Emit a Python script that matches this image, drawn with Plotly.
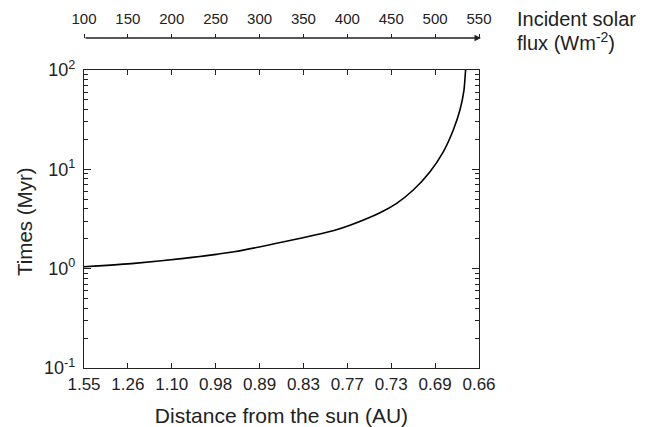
import plotly.graph_objects as go

# Data
flux = [100, 157, 213.9, 270.9, 327.8, 384.8, 403.8, 437.2, 456.2, 475.1, 494.2, 509.3, 520.7, 528.3, 532.9, 534.7]
times = [1.045, 1.131, 1.270, 1.480, 1.866, 2.427, 2.754, 3.656, 4.546, 6.19, 9.46, 15.0, 24.9, 39.5, 62.8, 100]

flux_ticks = [100, 150, 200, 250, 300, 350, 400, 450, 500, 550]
distance_labels = ["1.55", "1.26", "1.10", "0.98", "0.89", "0.83", "0.77", "0.73", "0.69", "0.66"]
y_ticks = [0.1, 1, 10, 100]
y_labels = ["10<sup>-1</sup>", "10<sup>0</sup>", "10<sup>1</sup>", "10<sup>2</sup>"]
y_minor = [m * 10 ** e for e in (-1, 0, 1) for m in range(2, 10)]

FONT = "Liberation Sans, Arial, Helvetica, sans-serif"
INK = "#222"

# figure-pixel layout (page is offset by the 8px body margin)
L, R, T, B = 76, 471, 62, 360
TOPM = 20
plot_h = B - TOPM
W = R - L
ydom_top = (B - T) / plot_h
arrow_y = (B - 30) / plot_h

fig = go.Figure()
fig.add_trace(go.Scatter(x=flux, y=times, mode="lines",
                         line=dict(color="black", width=1.6, shape="spline", smoothing=0.5),
                         showlegend=False, hoverinfo="skip"))
# invisible trace to activate top axis
fig.add_trace(go.Scatter(x=[100, 550], y=[1, 1], xaxis="x2", mode="lines",
                         line=dict(width=0), showlegend=False, hoverinfo="skip"))

fig.update_layout(
    width=647, height=427,
    margin=dict(l=L, r=647 - R, t=TOPM, b=427 - B),
    paper_bgcolor="white", plot_bgcolor="white",
    font=dict(family=FONT, size=15, color=INK),
    xaxis=dict(range=[100, 550], tickvals=flux_ticks, ticktext=distance_labels,
               ticks="inside", ticklen=5, tickcolor=INK, showline=True,
               linecolor=INK, linewidth=1.2, mirror="ticks", showgrid=False,
               zeroline=False, anchor="y", automargin=False,
               title=dict(text="Distance from the sun (AU)", font=dict(size=21), standoff=15),
               tickfont=dict(size=17)),
    xaxis2=dict(range=[100, 550], tickvals=flux_ticks, ticktext=[str(v) for v in flux_ticks],
                overlaying="x", side="top", anchor="free", position=arrow_y,
                ticks="outside", ticklen=4, tickcolor=INK, showline=False,
                showgrid=False, zeroline=False, automargin=False,
                ticklabelstandoff=4, tickfont=dict(size=15)),
    yaxis=dict(type="log", range=[-1, 2], domain=[0, ydom_top], tickvals=y_ticks,
               ticktext=y_labels, ticks="inside", ticklen=7, tickcolor=INK,
               showline=True, linecolor=INK, linewidth=1.2, mirror="ticks",
               showgrid=False, zeroline=False, automargin=False, tickfont=dict(size=18),
               ticklabelstandoff=4,
               minor=dict(ticks="inside", ticklen=4, tickcolor=INK, tickvals=y_minor, showgrid=False)),
)

# y-axis title
fig.add_annotation(x=(16 - L) / W, y=(B - 214) / plot_h, xref="paper", yref="paper",
                   text="Times (Myr)", textangle=-90, showarrow=False,
                   xanchor="center", yanchor="middle", font=dict(size=20.5))
# arrow for top axis
fig.add_annotation(x=(473 - L) / W, y=arrow_y, ax=-(473 - L), ay=0,
                   xref="paper", yref="paper", axref="pixel", ayref="pixel",
                   showarrow=True, arrowhead=2, arrowsize=1, arrowwidth=1.3,
                   arrowcolor=INK, text="")
fig.add_annotation(x=(507 - L) / W, y=(B - 11) / plot_h, xref="paper", yref="paper",
                   text="Incident solar", showarrow=False, xanchor="left", yanchor="middle",
                   font=dict(size=20))
fig.add_annotation(x=(507 - L) / W, y=(B - 34) / plot_h, xref="paper", yref="paper",
                   text="flux (Wm<sup>-2</sup>)", showarrow=False, xanchor="left", yanchor="middle",
                   font=dict(size=20))

fig.write_html("out.html")
